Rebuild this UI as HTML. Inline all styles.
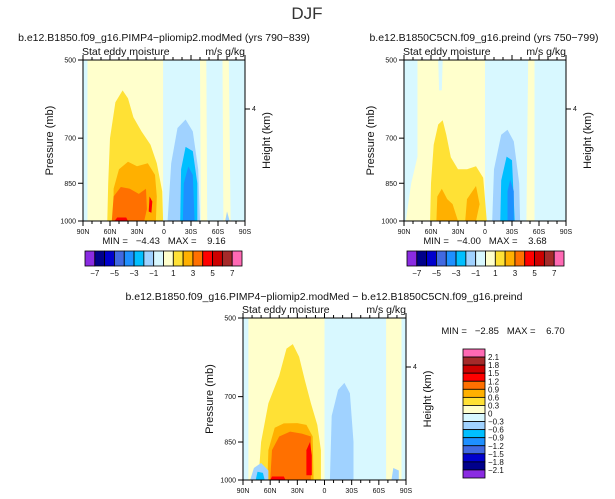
<!DOCTYPE html>
<html><head><meta charset="utf-8"><style>
body{margin:0;background:#fff;}
svg{display:block;font-family:"Liberation Sans",sans-serif;}
text{white-space:pre;}
</style></head><body>
<svg id="c" width="615" height="499" viewBox="0 0 615 499">
<text x="307" y="19" font-size="17" text-anchor="middle" fill="#333">DJF</text>
</svg>
<script>
const NS="http://www.w3.org/2000/svg";
const svg=document.getElementById('c');
const palette=["#8a2be2","#00008b","#0000cd","#4169e1","#1e90ff","#00bfff","#a0d2ff","#d8f8ff","#ffffcc","#ffe135","#ffb000","#ff7000","#ff0000","#cd0000","#a52a2a","#ff69b4"];
const latTicks=[90,60,30,0,-30,-60,-90];
const latLabels=["90N","60N","30N","0","30S","60S","90S"];
const pTicks=[500,700,850,1000];
const hbarLabels=["-7","-5","-3","-1","1","3","5","7"];
const vbarLabels=["2.1","1.8","1.5","1.2","0.9","0.6","0.3","0","-0.3","-0.6","-0.9","-1.2","-1.5","-1.8","-2.1"];
// regions: [colorIndex, [[lat,p],...]]
const fieldA=[
[8,[[85,500],[1,500],[1,1000],[85,1000]]],
[8,[[-40,500],[-47,500],[-48,1000],[-41,1000]]],
[8,[[-65,500],[-72,500],[-74,1000],[-66,1000]]],
[9,[[63,1000],[62,850],[60,700],[54,600],[46,570],[40,590],[34,640],[25,680],[15,720],[8,780],[2,880],[1,1000]]],
[10,[[56,1000],[56,870],[50,800],[40,775],[30,790],[18,780],[10,820],[8,900],[9,1000]]],
[11,[[58,1000],[56,900],[48,864],[38,870],[28,890],[20,870],[19,950],[22,1000]]],
[12,[[17,960],[16,900],[13,920],[14,965]]],
[12,[[55,1000],[52,985],[42,985],[40,1000]]],
[6,[[-4,1000],[-8,780],[-15,670],[-24,646],[-32,680],[-38,800],[-40,1000]]],
[5,[[-18,1000],[-19,800],[-24,727],[-32,740],[-37,850],[-37,1000]]],
[4,[[-21,1000],[-22,850],[-27,791],[-32,820],[-34,1000]]],
[6,[[-68,1000],[-70,960],[-73,1000]]]
];
const fieldB=[
[8,[[75,500],[0,500],[0,1000],[88,1000],[82,850],[75,758]]],
[7,[[52,500],[47,500],[48,570],[51,570]]],
[8,[[-48,500],[-55,500],[-55,1000],[-46,1000]]],
[9,[[61,1000],[60,850],[57,720],[52,660],[47,648],[43,690],[38,760],[30,800],[20,800],[10,790],[2,830],[-2,1000]]],
[10,[[54,1000],[53,900],[48,870],[42,910],[36,930],[30,1000]]],
[10,[[22,1000],[20,910],[10,860],[6,930],[10,1000]]],
[6,[[-8,1000],[-10,800],[-18,690],[-25,675],[-32,710],[-38,850],[-39,1000]]],
[5,[[-17,1000],[-18,840],[-24,758],[-30,770],[-33,1000]]],
[4,[[-25,1000],[-25,880],[-28,837],[-32,880],[-32,1000]]]
];
const fieldC=[
[8,[[84,500],[0,500],[0,1000],[84,1000]]],
[8,[[-68,500],[-85,500],[-85,1000],[-68,1000]]],
[9,[[73,1000],[70,850],[62,720],[50,640],[42,570],[35,559],[28,590],[22,650],[15,720],[8,790],[4,880],[4,1000]]],
[10,[[63,1000],[62,880],[55,800],[45,785],[30,784],[20,790],[13,830],[12,1000]]],
[11,[[60,1000],[58,880],[50,830],[38,813],[25,820],[15,830],[15,1000]]],
[12,[[20,980],[20,880],[16,850],[14,900],[14,980]]],
[12,[[60,1000],[58,985],[45,985],[43,1000]]],
[6,[[-6,1000],[-8,760],[-15,680],[-22,660],[-28,690],[-32,850],[-32,1000]]],
[6,[[82,1000],[78,950],[70,930],[62,960],[62,1000]]],
[5,[[76,1000],[74,965],[68,970],[66,1000]]],
[6,[[-74,1000],[-76,950],[-82,960],[-82,1000]]]
];
function el(tag,attrs,name,parent){
  const e=document.createElementNS(NS,tag);
  for(const k in attrs)e.setAttribute(k,attrs[k]);
  
  
  (parent||svg).appendChild(e);return e;
}
function txt(x,y,s,size,anchor,name,rot){
  const t=el('text',{x:x,y:y,'font-size':size,'text-anchor':anchor||'start',fill:'#111'},name);
  if(rot)t.setAttribute('transform','rotate(-90 '+x+' '+y+')');
  t.textContent=s;return t;
}
function panel(L,T,W,H,field,id,tickY4){
  const xs=lat=>L+(90-lat)/180*W;
  const ys=p=>T+(Math.log(p)-Math.log(500))/(Math.log(1000)-Math.log(500))*H;
  const g=el('g',{},id+'-plot');
  el('rect',{x:L,y:T,width:W,height:H,fill:palette[7]},id+'-background',g);
  field.forEach((r,i)=>{
    const d=r[1].map((pt,j)=>(j?'L':'M')+xs(pt[0]).toFixed(1)+' '+ys(pt[1]).toFixed(1)).join(' ')+'Z';
    el('path',{d:d,fill:palette[r[0]],'stroke-linejoin':'round'},id+'-contour-region',g);
  });
  el('rect',{x:L,y:T,width:W,height:H,fill:'none',stroke:'#000','stroke-width':1},id+'-frame',g);
  latTicks.forEach((lt,i)=>{
    const x=xs(lt);
    el('line',{x1:x,y1:T+H,x2:x,y2:T+H+5,stroke:'#000'},id+'-x-tick',g);
    el('line',{x1:x,y1:T,x2:x,y2:T-5,stroke:'#000'},id+'-x-tick-top',g);
    txt(x,T+H+13,latLabels[i],7,'middle',id+'-x-tick-label');
  });
  for(let lt=80;lt>-90;lt-=10){if(lt%30==0)continue;const x=xs(lt);
    el('line',{x1:x,y1:T+H,x2:x,y2:T+H+3,stroke:'#000'},id+'-x-minor-tick',g);
    el('line',{x1:x,y1:T,x2:x,y2:T-3,stroke:'#000'},id+'-x-minor-tick-top',g);}
  pTicks.forEach(p=>{const y=ys(p);
    el('line',{x1:L,y1:y,x2:L-5,y2:y,stroke:'#000'},id+'-y-tick',g);
    txt(L-7,y+2.5,String(p),7,'end',id+'-y-tick-label');});
  el('line',{x1:L+W,y1:tickY4,x2:L+W+5,y2:tickY4,stroke:'#000'},id+'-height-tick',g);
  txt(L+W+7,tickY4+2,'4',7,'start',id+'-height-tick-label');
  txt(L-30,T+H/2,'Pressure (mb)',11,'middle',id+'-y-axis-title',true);
  txt(L+W+25,T+H/2,'Height (km)',11,'middle',id+'-right-axis-title',true);
  txt(L-1,T-5,'Stat eddy moisture',10.5,'start',id+'-variable-label');
  txt(L+W,T-5,'m/s g/kg',10.5,'end',id+'-units-label');
}
function hbar(L,T,W,H,id){
  const bw=W/16;
  palette.forEach((c,i)=>el('rect',{x:L+i*bw,y:T,width:bw,height:H,fill:c,stroke:'#000','stroke-width':0.8},id+'-colorbar-box'));
  hbarLabels.forEach((s,i)=>txt(L+bw*(1+2*i),T+H+10,s.replace('-','\u2212'),8,'middle',id+'-colorbar-label'));
}
panel(83,60,162,161,fieldA,'panel-a',109);
panel(404,60,162,161,fieldB,'panel-b',109);
panel(243,318,163,162,fieldC,'panel-c',367);
txt(164,41,'b.e12.B1850.f09_g16.PIMP4\u2212pliomip2.modMed (yrs 790\u2212839)',10.5,'middle','panel-a-title');
txt(484,41,'b.e12.B1850C5CN.f09_g16.preind (yrs 750\u2212799)',10.5,'middle','panel-b-title');
txt(324,300,'b.e12.B1850.f09_g16.PIMP4\u2212pliomip2.modMed \u2212 b.e12.B1850C5CN.f09_g16.preind',10.5,'middle','panel-c-title');
txt(164,244,'MIN =   \u22124.43   MAX =    9.16',9.5,'middle','panel-a-minmax');
txt(485,244,'MIN =   \u22124.00   MAX =    3.68',9.5,'middle','panel-b-minmax');
txt(503,334,'MIN =   \u22122.85   MAX =    6.70',9.5,'middle','panel-c-minmax');
hbar(85,251,157,15,'panel-a');
hbar(407,251,157,15,'panel-b');
(function(){const L=463,T=349,W=22,bh=129/16;
  palette.slice().reverse().forEach((c,i)=>el('rect',{x:L,y:T+i*bh,width:W,height:bh,fill:c,stroke:'#000','stroke-width':0.8},'panel-c-colorbar-box'));
  vbarLabels.forEach((s,i)=>txt(L+W+3,T+bh*(i+1)+3,s.replace('-','\u2212'),8,'start','panel-c-colorbar-label'));
})();
</script>
</body></html>
